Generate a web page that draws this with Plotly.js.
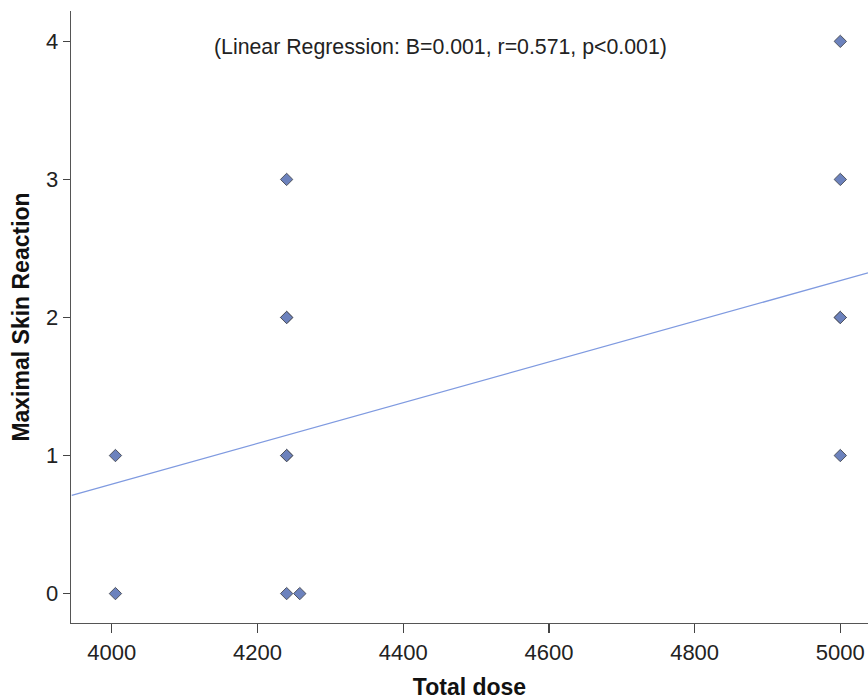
<!DOCTYPE html>
<html>
<head>
<meta charset="utf-8">
<script src="https://cdn.plot.ly/plotly-3.0.1.min.js"></script>
<style>html,body{margin:0;padding:0;background:#fff;}#chart{width:868px;height:700px;}</style>
</head>
<body>
<div id="chart"></div>
<script>
// Observed data (Total dose vs Maximal Skin Reaction)
var totalDose = [4005, 4005, 4240, 4258, 4240, 4240, 4240, 4240, 4240, 5000, 5000, 5000, 5000, 5000];
var skinReaction = [0, 1, 0, 0, 1, 1, 2, 2, 3, 1, 2, 2, 3, 4];
// Fitted regression line endpoints
var fitX = [3945, 5038];
var fitY = [0.712, 2.323];
var xTicks = [4000, 4200, 4400, 4600, 4800, 5000];
var yTicks = [0, 1, 2, 3, 4];
var statsText = "(Linear Regression: B=0.001, r=0.571, p<0.001)";

var font = "Liberation Sans, Arial, sans-serif";

var traces = [
  {
    x: fitX, y: fitY, mode: "lines", type: "scatter",
    line: {color: "#7f9ae0", width: 1.3},
    hoverinfo: "skip", showlegend: false
  },
  {
    x: totalDose, y: skinReaction, mode: "markers", type: "scatter",
    marker: {symbol: "diamond", size: 9.5, color: "#6c82bd", line: {color: "#50545e", width: 1}},
    showlegend: false
  }
];

var layout = {
  width: 868, height: 700,
  margin: {l: 71, r: 0, t: 11, b: 77, pad: 0},
  paper_bgcolor: "#ffffff", plot_bgcolor: "#ffffff",
  font: {family: font, color: "#222222", size: 21},
  xaxis: {
    range: [3944, 5038],
    tickvals: xTicks, ticktext: xTicks.map(String),
    showgrid: false, zeroline: false,
    showline: true, linecolor: "#555555", linewidth: 1.3,
    ticks: "outside", ticklen: 9, tickwidth: 1.3, tickcolor: "#444444",
    tickfont: {family: font, size: 22, color: "#222222"},
    title: {text: "<b>Total dose</b>", font: {family: font, size: 23, color: "#111111"}, standoff: 15}
  },
  yaxis: {
    range: [-0.213, 4.22],
    tickvals: yTicks, ticktext: yTicks.map(String),
    showgrid: false, zeroline: false,
    showline: true, linecolor: "#555555", linewidth: 1.3,
    ticks: "outside", ticklen: 7, tickwidth: 1.3, tickcolor: "#444444",
    tickfont: {family: font, size: 22, color: "#222222"},
    title: {text: "<b>Maximal Skin Reaction</b>", font: {family: font, size: 23, color: "#111111"}, standoff: 10}
  },
  annotations: [{
    text: statsText, xref: "paper", yref: "paper",
    x: 0.464, y: 0.941, showarrow: false,
    font: {family: font, size: 21.3, color: "#222222"},
    xanchor: "center", yanchor: "middle"
  }]
};

Plotly.newPlot("chart", traces, layout, {displayModeBar: false, staticPlot: true});
</script>
</body>
</html>
